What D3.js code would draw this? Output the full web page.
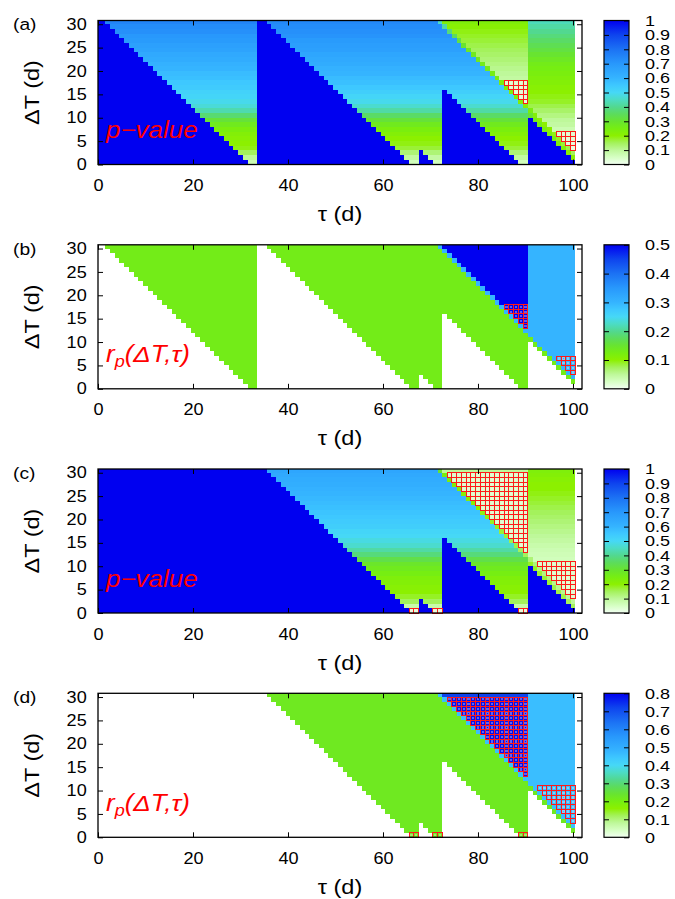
<!DOCTYPE html>
<html>
<head>
<meta charset="utf-8">
<script src="https://cdn.jsdelivr.net/npm/d3@7"></script>
<style>
  body { margin: 0; background: #fff; }
  svg { display: block; font-family: "Liberation Sans", Arial, Helvetica, sans-serif; }
</style>
</head>
<body>
<div id="chart"></div>
<script>
// scan grid: window start tau and window length dT (days)
const tauDays = d3.range(0, 101);
const dTDays = d3.range(0, 31);
const xTicks = [0, 20, 40, 60, 80, 100];
const yTicks = [0, 5, 10, 15, 20, 25, 30];

// runs of tau, and the last window end (tau+dT) that still holds no new point
const segFirstTau = [0, 34, 68, 73, 91];
const segEmptyUpTo = [31, 65, 70, 88, 100];
// class of a cell as the window end grows: [last end, class]
const segClassByEnd = [
  [[Infinity, 'A']],
  [[Infinity, 'B']],
  [[101, 'B'], [Infinity, 'B2top']],
  [[101, 'B'], [102, 'Cedge'], [Infinity, 'Clate']],
  [[101, 'Dedge'], [102, 'Dmid'], [Infinity, 'Dlate']]
];

// values per dT row (null where the class never occurs)
function fromRow(first, vals) { return dTDays.map(r => r < first || r >= first + vals.length ? null : vals[r - first]); }

// (a) p-value
const a_A = [0.07,0.10,0.15,0.19,0.20,0.21,0.22,0.24,0.27,0.31,0.37,0.43,0.47,0.49,0.51,0.52,0.54,0.55,0.57,0.58,0.60,0.61,0.63,0.64,0.66,0.67,0.69,0.70,0.72,0.73,0.75];
const a_B = [0.06,0.09,0.13,0.17,0.19,0.20,0.22,0.24,0.27,0.31,0.36,0.42,0.46,0.49,0.51,0.53,0.55,0.57,0.58,0.60,0.61,0.63,0.64,0.65,0.67,0.68,0.69,0.71,0.72,0.73,0.74];
const a_B2top = 0.45;
const a_Cedge = fromRow(12, [0.22,0.22,0.23,0.23,0.24,0.24,0.25,0.25,0.26,0.26,0.27,0.27,0.28,0.30,0.32,0.35,0.38,0.42]);
const a_Clate = fromRow(13, [0.025,0.03,0.035,0.04,0.045,0.09,0.10,0.11,0.12,0.13,0.14,0.15,0.16,0.17,0.18,0.19,0.21,0.23]);
const a_Dedge = fromRow(1, [0.20,0.21,0.22,0.23,0.24,0.24,0.25,0.26,0.27,0.30]);
const a_Dmid = fromRow(2, [0.15,0.16,0.17,0.18,0.19,0.20,0.20,0.21,0.22,0.24]);
const a_Dlate = fromRow(3, [0.02,0.03,0.035,0.04,0.07,0.09,0.10,0.12,0.14,0.16,0.18,0.19,0.20,0.21,0.22,0.23,0.24,0.25,0.26,0.28,0.30,0.32,0.34,0.36,0.38,0.40,0.42,0.44]);

// (b) r_p
const b_A = 0.13, b_B = 0.13, b_B2top = 0.30, b_Cedge = 0.30, b_Clate = 0.50;
const b_Dedge = 0.13, b_Dmid = 0.30, b_Dlate = 0.30;

// (c) p-value, first point left out
const c_B = [0.03,0.08,0.15,0.18,0.20,0.21,0.22,0.23,0.25,0.27,0.29,0.33,0.38,0.42,0.46,0.48,0.50,0.51,0.53,0.54,0.55,0.56,0.57,0.58,0.59,0.60,0.61,0.62,0.63,0.64,0.65];
const c_B2top = 0.30;
const c_Cedge = fromRow(12, [0.15,0.15,0.16,0.16,0.17,0.17,0.18,0.18,0.19,0.19,0.20,0.20,0.21,0.21,0.22,0.22,0.23,0.24]);
const c_Clate = fromRow(13, [0.04,0.04,0.04,0.04,0.04,0.04,0.045,0.045,0.045,0.045,0.045,0.045,0.045,0.045,0.045,0.045,0.045,0.10]);
const c_Dedge = fromRow(1, [0.15,0.15,0.16,0.16,0.16,0.17,0.17,0.17,0.18,0.18]);
const c_Dmid = fromRow(2, [0.10,0.10,0.11,0.11,0.11,0.12,0.12,0.12,0.13,0.13]);
const c_Dlate = fromRow(3, [0.04,0.04,0.04,0.04,0.04,0.045,0.045,0.045,0.06,0.065,0.07,0.08,0.09,0.10,0.11,0.12,0.13,0.14,0.15,0.16,0.17,0.18,0.19,0.20,0.20,0.21,0.22,0.23]);

// (d) r_p, first point left out
const d_B = 0.22, d_B2top = 0.46, d_Cedge = 0.46;
const d_Clate = fromRow(13, [0.78,0.78,0.78,0.78,0.78,0.78,0.78,0.78,0.78,0.78,0.78,0.78,0.78,0.78,0.78,0.78,0.78,0.72]);
const d_Dedge = 0.22, d_Dmid = 0.46, d_Dlate = 0.46;

const pEmpty = 1;       // p-value where the window holds no point
const pSignif = 0.05;   // marked cells

const panels = [
  { label: '(a)', kind: 'p', max: 1, note: 'p',
    table: { A: a_A, B: a_B, B2top: a_B2top, Cedge: a_Cedge, Clate: a_Clate, Dedge: a_Dedge, Dmid: a_Dmid, Dlate: a_Dlate } },
  { label: '(b)', kind: 'r', max: 0.5, note: 'r', marksFrom: 0,
    table: { A: b_A, B: b_B, B2top: b_B2top, Cedge: b_Cedge, Clate: b_Clate, Dedge: b_Dedge, Dmid: b_Dmid, Dlate: b_Dlate } },
  { label: '(c)', kind: 'p', max: 1, note: 'p',
    table: { A: null, B: c_B, B2top: c_B2top, Cedge: c_Cedge, Clate: c_Clate, Dedge: c_Dedge, Dmid: c_Dmid, Dlate: c_Dlate } },
  { label: '(d)', kind: 'r', max: 0.8, note: 'r', marksFrom: 2,
    table: { A: null, B: d_B, B2top: d_B2top, Cedge: d_Cedge, Clate: d_Clate, Dedge: d_Dedge, Dmid: d_Dmid, Dlate: d_Dlate } }
];

// palette (fraction of colour range -> colour)
const paletteStops = [0, 0.05, 0.1, 0.15, 0.2, 0.25, 0.3, 0.35, 0.4, 0.45, 0.5, 0.55, 0.6, 0.7, 0.8, 0.9, 1];
const paletteColors = ['#f2fff2', '#d6ffc4', '#bef89a', '#a4f25c', '#8cf000', '#76ee12', '#68e430', '#5cdc5c',
  '#52d890', '#4cdcc4', '#46d8f6', '#3ec8ff', '#35b4ff', '#2898fc', '#1c72f4', '#0e44ee', '#0000f0'];
const palette = d3.scaleLinear().domain(paletteStops).range(paletteColors).interpolate(d3.interpolateRgb).clamp(true);

// layout
const W = 675, H = 899;
const plotLeft = 98, plotRight = 582, plotH = 144;
const panelTops = [20.5, 244.8, 469, 693.3];
const cbLeft = 604, cbRight = 629;
const SX = 1.13; // glyphs in the figure are wider than Helvetica
const yMax = 30.8;

const svg = d3.select('#chart').append('svg').attr('width', W).attr('height', H);
const x = d3.scaleLinear().domain([0, 101.9]).range([plotLeft, plotRight]);

function segOf(t) { let s = 0; segFirstTau.forEach((f, i) => { if (t >= f) s = i; }); return s; }

function cellsFor(table) {
  const out = [];
  tauDays.forEach(t => dTDays.forEach(dt => {
    const s = segOf(t), end = t + dt;
    let v = null;
    if (end > segEmptyUpTo[s]) {
      const cls = segClassByEnd[s].find(c => end <= c[0])[1];
      const src = table[cls];
      v = src == null ? null : (Array.isArray(src) ? src[dt] : src);
    }
    out.push({ t, dt, v });
  }));
  return out;
}

const allCells = panels.map(P => cellsFor(P.table));

const styleAxis = (sel, showText, size = 16, sx = SX) => {
  sel.select('.domain').remove();
  sel.selectAll('line').attr('stroke', '#000').attr('stroke-width', 1);
  sel.selectAll('text').attr('font-size', size).attr('fill', '#000')
    .attr('font-family', '"Liberation Sans", Arial, Helvetica, sans-serif')
    .attr('transform', `scale(${sx},1)`);
  if (!showText) sel.selectAll('text').remove();
};

panels.forEach((P, i) => {
  const top = panelTops[i], bottom = top + plotH;
  const y = d3.scaleLinear().domain([0, yMax]).range([bottom, top]);
  const g = svg.append('g');
  const color = v => palette(v / P.max);
  const cells = allCells[i];

  // heat map
  g.append('g').attr('shape-rendering', 'crispEdges')
    .selectAll('rect')
    .data(cells.filter(c => P.kind === 'p' || c.v != null))
    .join('rect')
    .attr('x', d => x(Math.max(0, d.t - 0.5)))
    .attr('width', d => x(d.t + 0.5) - x(Math.max(0, d.t - 0.5)))
    .attr('y', d => y(Math.min(d.dt + 1, yMax)))
    .attr('height', d => y(d.dt) - y(Math.min(d.dt + 1, yMax)))
    .attr('fill', d => color(d.v == null ? pEmpty : d.v));

  // significant cells, taken from the p-value map
  const pCells = P.kind === 'p' ? cells : allCells[P.marksFrom];
  const marked = pCells.filter(c => c.v != null && c.v < pSignif);
  const mk = g.append('g').attr('shape-rendering', 'crispEdges').selectAll('g').data(marked).join('g');
  mk.append('rect')
    .attr('x', d => x(d.t - 0.5)).attr('y', d => y(Math.min(d.dt + 1, yMax)))
    .attr('width', d => x(d.t + 0.5) - x(d.t - 0.5)).attr('height', d => y(d.dt) - y(Math.min(d.dt + 1, yMax)))
    .attr('fill', 'none').attr('stroke', '#ff1a1a').attr('stroke-width', 1);
  mk.append('rect')
    .attr('x', d => x(d.t) - 0.6).attr('y', d => y(d.dt + 0.5) - 0.6).attr('width', 1.2).attr('height', 1.2)
    .attr('fill', 'none').attr('stroke', 'rgba(255,235,235,0.55)').attr('stroke-width', 0.7);

  // axes
  g.append('g').attr('transform', `translate(0,${bottom})`)
    .call(d3.axisBottom(x).tickValues(xTicks).tickSize(-5).tickPadding(15.3).tickFormat(d3.format('d')))
    .call(s => styleAxis(s, true));
  g.append('g').attr('transform', `translate(0,${top})`)
    .call(d3.axisTop(x).tickValues(xTicks).tickSize(-5))
    .call(s => styleAxis(s, false));
  g.append('g').attr('transform', `translate(${plotLeft},0)`)
    .call(d3.axisLeft(y).tickValues(yTicks).tickSize(-5).tickPadding(10).tickFormat(d3.format('d')))
    .call(s => styleAxis(s, true));
  g.append('g').attr('transform', `translate(${plotRight},0)`)
    .call(d3.axisRight(y).tickValues(yTicks).tickSize(-5))
    .call(s => styleAxis(s, false));

  g.append('rect').attr('x', plotLeft).attr('y', top).attr('width', plotRight - plotLeft).attr('height', plotH)
    .attr('fill', 'none').attr('stroke', '#000').attr('stroke-width', 1.3);

  // titles
  g.append('text').attr('transform', `translate(39,${top + 72}) rotate(-90) scale(1.12,1)`)
    .attr('text-anchor', 'middle').attr('font-size', 21).text('ΔT (d)');
  g.append('text').attr('transform', `translate(340,${bottom + 56.5}) scale(1.12,1)`)
    .attr('text-anchor', 'middle').attr('font-size', 21).text('τ (d)');
  g.append('text').attr('transform', `translate(13,${top + 9.7}) scale(${SX},1)`)
    .attr('font-size', 17).text(P.label);

  const note = g.append('text').attr('transform', `translate(106,${top + 117.5}) scale(${SX},1)`)
    .attr('font-size', 23).attr('font-style', 'italic').attr('fill', '#ff0000');
  if (P.note === 'p') {
    note.text('p−value');
  } else {
    note.append('tspan').text('r');
    note.append('tspan').attr('font-size', 16).attr('dy', 5).text('p');
    note.append('tspan').attr('dy', -5).text('(ΔT,τ)');
  }

  // colour bar
  const gid = `grad${i}`;
  const grad = svg.append('defs').append('linearGradient').attr('id', gid)
    .attr('x1', 0).attr('y1', 1).attr('x2', 0).attr('y2', 0);
  grad.selectAll('stop').data(paletteStops).join('stop')
    .attr('offset', d => d).attr('stop-color', d => palette(d));
  const cb = d3.scaleLinear().domain([0, P.max]).range([bottom, top]);
  const cbTicks = d3.range(0, Math.round(P.max * 10) + 1).map(k => k / 10);
  g.append('rect').attr('x', cbLeft).attr('y', top).attr('width', cbRight - cbLeft).attr('height', plotH)
    .attr('fill', `url(#${gid})`);
  g.append('g').attr('transform', `translate(${cbRight},0)`)
    .call(d3.axisRight(cb).tickValues(cbTicks).tickSize(-5).tickPadding(13.3).tickFormat(d => String(+d.toFixed(1))))
    .call(s => styleAxis(s, true, 15, 1.2));
  g.append('g').attr('transform', `translate(${cbLeft},0)`)
    .call(d3.axisLeft(cb).tickValues(cbTicks.slice(1, -1)).tickSize(-5))
    .call(s => styleAxis(s, false));
  g.append('rect').attr('x', cbLeft).attr('y', top).attr('width', cbRight - cbLeft).attr('height', plotH)
    .attr('fill', 'none').attr('stroke', '#000').attr('stroke-width', 1.2);
});
</script>
</body>
</html>
